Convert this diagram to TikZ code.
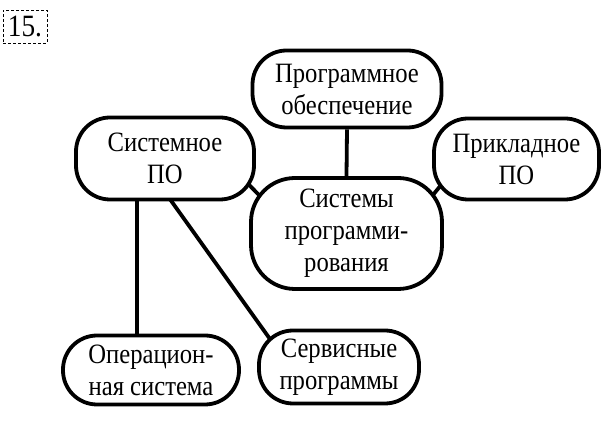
\documentclass[tikz,border=0pt]{standalone}
\usepackage{fontspec}
\setmainfont[FakeStretch=0.88]{Liberation Serif}
\usetikzlibrary{calc,backgrounds}
\begin{document}
\begin{tikzpicture}[x=1pt,y=1pt,
  box/.style={draw=black,line width=3.8pt,fill=white,rounded corners=34pt,
    align=center,inner sep=0pt,font=\fontsize{28}{32}\selectfont},
  link/.style={draw=black,line width=3.8pt},
  numbox/.style={draw=black,line width=0.8pt,densely dashed,inner sep=0pt,
    minimum width=44pt,minimum height=33pt,font=\fontsize{31}{32}\selectfont}]
\useasboundingbox (0,0) rectangle (614,-427);
\node[numbox] (num) at (25,-26.5) {15.};
\node[box,minimum width=189pt,minimum height=77pt] (pe) at (347,-89) {Программное\\обеспечение};
\node[box,minimum width=178pt,minimum height=82pt] (sys) at (165,-158.5) {Системное\\ПО};
\node[box,minimum width=165pt,minimum height=81pt] (pk) at (516.5,-159) {Прикладное\\ПО};
\node[box,minimum width=191pt,minimum height=111pt,rounded corners=44pt] (sp) at (346.5,-233.5) {Системы\\программи-\\рования};
\node[box,minimum width=176pt,minimum height=69pt] (os) at (151,-370) {Операцион-\\ная система};
\node[box,minimum width=160pt,minimum height=73pt] (sv) at (339,-367) {Сервисные\\программы};
\begin{scope}[on background layer]
\draw[link] (pe.south) -- (sp.north);
\draw[link] ($(sys.south east)+(-15,25)$) -- ($(sp.west)+(20,28)$);
\draw[link] ($(pk.south west)+(12,20)$) -- ($(sp.east)+(-18,30)$);
\draw[link] ($(sys.south)+(-28,5)$) -- ($(os.north)+(-14,-5)$);
\draw[link] ($(sys.south)+(3,5)$) -- ($(sv.north west)+(14,-12)$);
\end{scope}
\end{tikzpicture}
\end{document}
